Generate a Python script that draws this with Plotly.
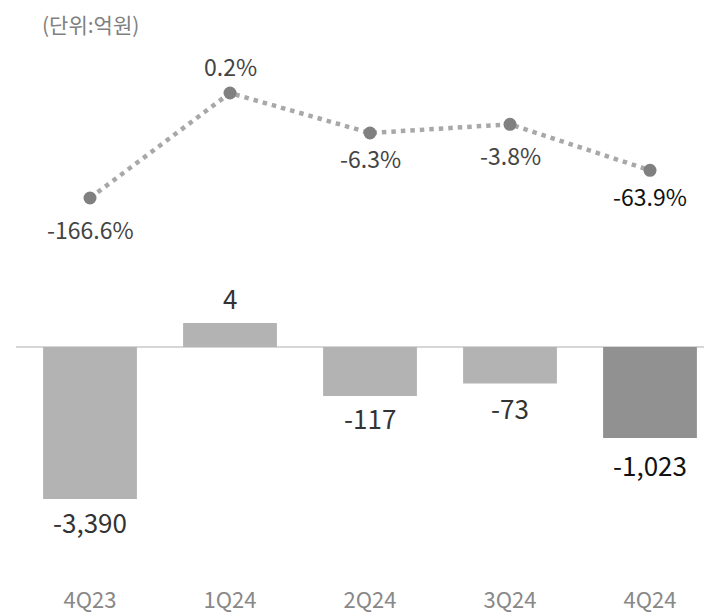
import plotly.graph_objects as go

# ---- data ----
quarters = ["4Q23", "1Q24", "2Q24", "3Q24", "4Q24"]
op_profit = [-3390, 4, -117, -73, -1023]              # 억원 (labels)
op_margin = [-166.6, 0.2, -6.3, -3.8, -63.9]          # % (labels)
# chart drawing levels as read from the (non-linear, stylised) picture
bar_level = [-152, 24, -49, -36.5, -91]
margin_level = [149, 254, 214, 222.7, 176.7]

bar_labels = [f"{v:,}" for v in op_profit]
margin_labels = [f"{v}%" for v in op_margin]

FONT = "Noto Sans CJK KR, Noto Sans, sans-serif"
bar_colors = ["#b3b3b3", "#b3b3b3", "#b3b3b3", "#b3b3b3", "#919191"]
bar_text_colors = ["#333333", "#333333", "#333333", "#333333", "#111111"]
pct_text_colors = ["#444444", "#444444", "#444444", "#444444", "#111111"]
bar_label_shift = [-22, 26, -21, -24, -26]
pct_label_shift = [-31, 27, -25, -31, -26]

# page body has an 8px margin: figure is 704x606, placed at (8, 8)
W, H, B = 704, 606, 40

fig = go.Figure()

fig.add_trace(go.Bar(
    x=quarters, y=bar_level, width=0.67,
    marker=dict(color=bar_colors, line=dict(width=0)),
    hoverinfo="skip",
))

fig.add_trace(go.Scatter(
    x=quarters, y=margin_level, mode="lines+markers",
    line=dict(color="#a8a8a8", width=4.5, dash="4.5px,5px"),
    marker=dict(color="#808080", size=13),
    cliponaxis=False, hoverinfo="skip",
))

for q, lv, lab, col, sh in zip(quarters, bar_level, bar_labels, bar_text_colors, bar_label_shift):
    fig.add_annotation(x=q, y=lv, text=lab, showarrow=False, yanchor="middle",
                       yshift=sh, font=dict(family=FONT, size=26, color=col))

for q, lv, lab, col, sh in zip(quarters, margin_level, margin_labels, pct_text_colors, pct_label_shift):
    fig.add_annotation(x=q, y=lv, text=lab, showarrow=False, yanchor="middle",
                       yshift=sh, font=dict(family=FONT, size=23, color=col))

fig.add_shape(type="line", xref="paper", yref="y", x0=8/W, x1=1, y0=0, y1=0,
              line=dict(color="#c8c8c8", width=1.5), layer="below")

fig.add_annotation(text="(단위:억원)", xref="paper", yref="paper",
                   x=33/W, y=1, xanchor="left", yanchor="top",
                   borderpad=0, showarrow=False,
                   font=dict(family=FONT, size=21, color="#808080"))

fig.update_layout(
    width=W, height=H,
    margin=dict(l=0, r=0, t=0, b=B),
    paper_bgcolor="white", plot_bgcolor="white",
    showlegend=False,
    font=dict(family=FONT),
    xaxis=dict(range=[-82/140, -82/140 + W/140], showgrid=False, zeroline=False, showline=False,
               ticks="", tickfont=dict(family=FONT, size=22, color="#888888"),
               ticklabelstandoff=11, fixedrange=True),
    yaxis=dict(range=[339 - (H - B), 339], visible=False, fixedrange=True),
)

fig.write_html("out.html")
